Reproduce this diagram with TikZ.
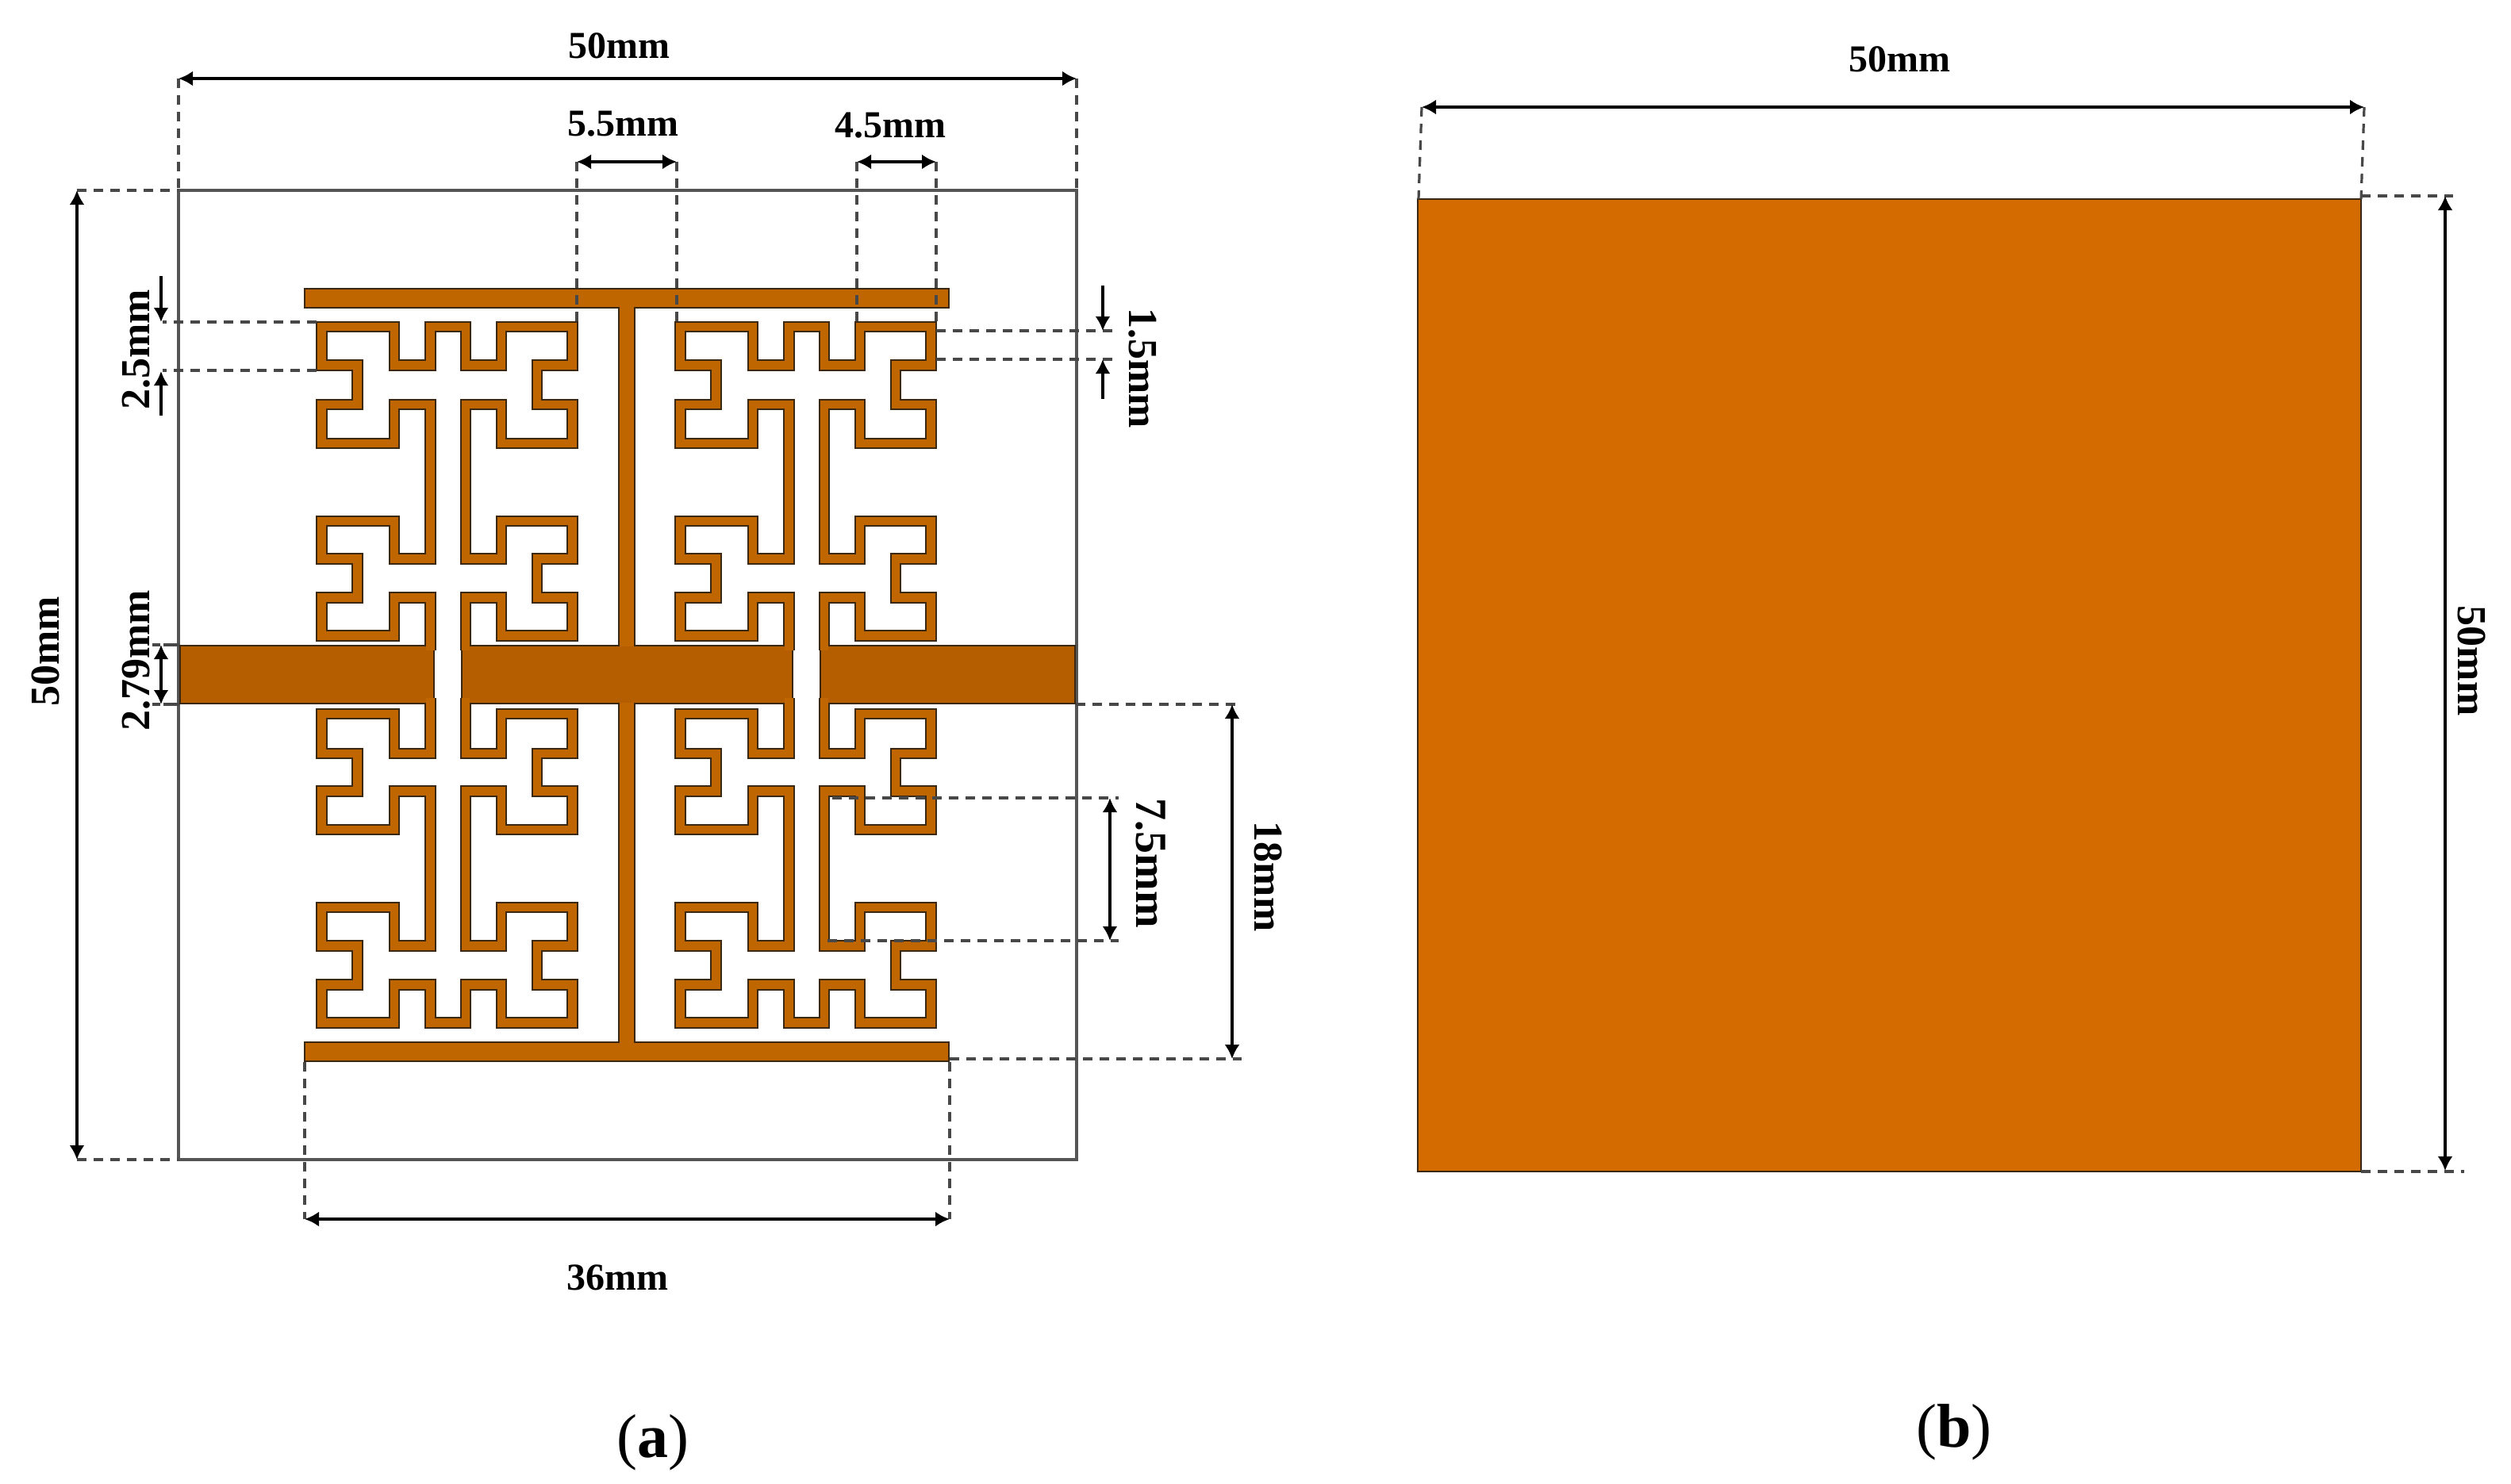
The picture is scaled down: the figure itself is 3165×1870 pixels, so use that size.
\documentclass[tikz,border=0pt]{standalone}
\usepackage{fontspec}
\setmainfont{Liberation Serif}
\usetikzlibrary{arrows.meta}
\definecolor{edgeC}{HTML}{3A2812}
\definecolor{stripC}{HTML}{C06600}
\definecolor{feedC}{HTML}{B45E00}
\definecolor{patchC}{HTML}{D46B00}
\definecolor{lineC}{HTML}{555555}
\definecolor{dashC}{HTML}{484848}
\def\Xa{405.5}\def\Xb{450.5}\def\Xc{497}\def\Xd{542.5}\def\Xe{587}\def\Xf{632}\def\Xg{677}\def\Xh{721.5}
\newcommand{\hilbertTop}{(\Xd,820) -- (\Xd,753.5) -- (\Xc,753.5) -- (\Xc,801.5) -- (\Xa,801.5) -- (\Xa,753.5) -- (\Xb,753.5) -- (\Xb,704.5) -- (\Xa,704.5) -- (\Xa,657) -- (\Xc,657) -- (\Xc,704.5) -- (\Xd,704.5) -- (\Xd,510) -- (\Xc,510) -- (\Xc,559) -- (\Xa,559) -- (\Xa,510) -- (\Xb,510) -- (\Xb,460.5) -- (\Xa,460.5) -- (\Xa,412) -- (\Xc,412) -- (\Xc,460.5) -- (\Xd,460.5) -- (\Xd,412) -- (\Xe,412) -- (\Xe,460.5) -- (\Xf,460.5) -- (\Xf,412) -- (\Xh,412) -- (\Xh,460.5) -- (\Xg,460.5) -- (\Xg,510) -- (\Xh,510) -- (\Xh,559) -- (\Xf,559) -- (\Xf,510) -- (\Xe,510) -- (\Xe,704.5) -- (\Xf,704.5) -- (\Xf,657) -- (\Xh,657) -- (\Xh,704.5) -- (\Xg,704.5) -- (\Xg,753.5) -- (\Xh,753.5) -- (\Xh,801.5) -- (\Xf,801.5) -- (\Xf,753.5) -- (\Xe,753.5) -- (\Xe,820)}
\newcommand{\hilbertBot}{(\Xd,880) -- (\Xd,950) -- (\Xc,950) -- (\Xc,900) -- (\Xa,900) -- (\Xa,950) -- (\Xb,950) -- (\Xb,997.5) -- (\Xa,997.5) -- (\Xa,1046) -- (\Xc,1046) -- (\Xc,997.5) -- (\Xd,997.5) -- (\Xd,1192.5) -- (\Xc,1192.5) -- (\Xc,1144) -- (\Xa,1144) -- (\Xa,1192.5) -- (\Xb,1192.5) -- (\Xb,1241.5) -- (\Xa,1241.5) -- (\Xa,1289.5) -- (\Xc,1289.5) -- (\Xc,1241.5) -- (\Xd,1241.5) -- (\Xd,1289.5) -- (\Xe,1289.5) -- (\Xe,1241.5) -- (\Xf,1241.5) -- (\Xf,1289.5) -- (\Xh,1289.5) -- (\Xh,1241.5) -- (\Xg,1241.5) -- (\Xg,1192.5) -- (\Xh,1192.5) -- (\Xh,1144) -- (\Xf,1144) -- (\Xf,1192.5) -- (\Xe,1192.5) -- (\Xe,997.5) -- (\Xf,997.5) -- (\Xf,1046) -- (\Xh,1046) -- (\Xh,997.5) -- (\Xg,997.5) -- (\Xg,950) -- (\Xh,950) -- (\Xh,900) -- (\Xf,900) -- (\Xf,950) -- (\Xe,950) -- (\Xe,880)}
\newcommand{\copperbar}[4]{% x1 y1 x2 y2
  \fill[edgeC] (#1,#2) rectangle (#3,#4);
}
\newcommand{\copperfill}[5]{%
  \fill[#5] (#1+2,#2+2) rectangle (#3-2,#4-2);
}
\tikzset{
  x=0.5pt, y=-0.5pt,
  stripouter/.style={draw=edgeC, line width=7.2pt, line join=miter, miter limit=10},
  stripinner/.style={draw=stripC, line width=5.4pt, line join=miter, miter limit=10},
  substrate/.style={draw=lineC, line width=1.7pt},
  dim/.style={draw=black, line width=1.7pt, {Latex[length=9pt,width=9.5pt]}-{Latex[length=9pt,width=9.5pt]}},
  dimhead/.style={draw=black, line width=1.7pt, -{Latex[length=9pt,width=9.5pt]}},
  ext/.style={draw=dashC, line width=1.6pt, dash pattern=on 6pt off 4.5pt},
  lab/.style={font=\fontsize{24}{24}\selectfont\bfseries, inner sep=0pt},
  vlab/.style={font=\fontsize{26}{26}\selectfont\bfseries, inner sep=0pt},
  sublab/.style={font=\fontsize{39}{39}\selectfont, inner sep=0pt}
}
\begin{document}
\begin{tikzpicture}
\useasboundingbox (0,0) rectangle (3165,1870);
\fill[white] (0,0) rectangle (3165,1870);
% substrate (a)
\draw[substrate] (225,240) rectangle (1357,1462);
% copper, dark edge pass
\copperbar{383}{363}{1197}{389}
\copperbar{383}{1313}{1197}{1339}
\copperbar{779}{376}{801}{1326}
\copperbar{226}{813}{548}{888}
\copperbar{581}{813}{1000}{888}
\copperbar{1033}{813}{1356}{888}
\foreach \dx in {0,452}{
  \begin{scope}[shift={(\dx,0)}]
  \draw[stripouter] \hilbertTop;
  \draw[stripouter] \hilbertBot;
  \end{scope}
}
% copper, colour pass
\copperfill{383}{363}{1197}{389}{stripC}
\copperfill{383}{1313}{1197}{1339}{stripC}
\copperfill{779}{370}{801}{1332}{stripC}
\copperfill{226}{813}{548}{888}{feedC}
\copperfill{581}{813}{1000}{888}{feedC}
\copperfill{1033}{813}{1356}{888}{feedC}
\fill[feedC] (779,815) rectangle (801,886);
\foreach \dx in {0,452}{
  \begin{scope}[shift={(\dx,0)}]
  \draw[stripinner] \hilbertTop;
  \draw[stripinner] \hilbertBot;
  \end{scope}
}
% named anchors of the dimensions
\coordinate (topL) at (225,99);   \coordinate (topR) at (1357,99);
\coordinate (subTL) at (225,240); \coordinate (subTR) at (1357,240);
\coordinate (subBL) at (225,1462);
\coordinate (leftT) at (97,240);  \coordinate (leftB) at (97,1462);
\coordinate (aL) at (727,204);    \coordinate (aR) at (853,204);
\coordinate (aLe) at (727,406);   \coordinate (aRe) at (853,406);
\coordinate (bL) at (1080,204);   \coordinate (bR) at (1180,204);
\coordinate (bLe) at (1080,406);  \coordinate (bRe) at (1180,406);
% dashed extension lines
\draw[ext] (topL) -- (subTL);
\draw[ext] (topR) -- (subTR);
\draw[ext] (leftT) -- (subTL);
\draw[ext] (leftB) -- (subBL);
\draw[ext] (aL) -- (aLe);
\draw[ext] (aR) -- (aRe);
\draw[ext] (bL) -- (bLe);
\draw[ext] (bR) -- (bRe);
\coordinate (p25a) at (399,406);  \coordinate (q25a) at (205,406);
\coordinate (p25b) at (399,467);  \coordinate (q25b) at (205,467);
\draw[ext] (p25a) -- (q25a);
\draw[ext] (p25b) -- (q25b);
\coordinate (p15a) at (1180,417); \coordinate (q15a) at (1402,417);
\coordinate (p15b) at (1180,453); \coordinate (q15b) at (1402,453);
\draw[ext] (p15a) -- (q15a);
\draw[ext] (p15b) -- (q15b);
\coordinate (p279a) at (226,813); \coordinate (q279a) at (192,813);
\coordinate (p279b) at (226,888); \coordinate (q279b) at (192,888);
\draw[ext, dash pattern=on 10pt off 2pt] (p279a) -- (q279a);
\draw[ext, dash pattern=on 10pt off 2pt] (p279b) -- (q279b);
\coordinate (p18a) at (1356,888);  \coordinate (q18a) at (1565,888);
\coordinate (p18b) at (1197,1335); \coordinate (q18b) at (1565,1335);
\draw[ext] (p18a) -- (q18a);
\draw[ext] (p18b) -- (q18b);
\coordinate (p75a) at (1049,1006); \coordinate (q75a) at (1410,1006);
\coordinate (p75b) at (1043,1186); \coordinate (q75b) at (1410,1186);
\draw[ext] (p75a) -- (q75a);
\draw[ext] (p75b) -- (q75b);
\coordinate (p36a) at (384,1339);  \coordinate (q36a) at (384,1537);
\coordinate (p36b) at (1197,1339); \coordinate (q36b) at (1197,1537);
\draw[ext] (p36a) -- (q36a);
\draw[ext] (p36b) -- (q36b);
% dimension arrows
\draw[dim] (topL) -- (topR);
\draw[dim] (leftT) -- (leftB);
\draw[dim] (aL) -- (aR);
\draw[dim] (bL) -- (bR);
\coordinate (t25a) at (203,348); \coordinate (h25a) at (203,406);
\coordinate (t25b) at (203,524); \coordinate (h25b) at (203,468);
\draw[dimhead] (t25a) -- (h25a);
\draw[dimhead] (t25b) -- (h25b);
\coordinate (a279t) at (203,813); \coordinate (a279b) at (203,888);
\draw[dim] (a279t) -- (a279b);
\coordinate (t15a) at (1390,360); \coordinate (h15a) at (1390,417);
\coordinate (t15b) at (1390,503); \coordinate (h15b) at (1390,453);
\draw[dimhead] (t15a) -- (h15a);
\draw[dimhead] (t15b) -- (h15b);
\coordinate (a18t) at (1553,888); \coordinate (a18b) at (1553,1335);
\draw[dim] (a18t) -- (a18b);
\coordinate (a75t) at (1399,1006); \coordinate (a75b) at (1399,1186);
\draw[dim] (a75t) -- (a75b);
\draw[dim] (q36a) -- (q36b);
% panel (b)
\fill[patchC] (1787,251) rectangle (2976,1477);
\draw[draw=edgeC, line width=1pt] (1787,251) rectangle (2976,1477);
\coordinate (ptL) at (1792,135);  \coordinate (ptR) at (2980,135);
\coordinate (pcTL) at (1788,251); \coordinate (pcTR) at (2976,251);
\coordinate (pcBR) at (2976,1477);
\coordinate (prT) at (3082,247);  \coordinate (prB) at (3082,1476);
\coordinate (peT) at (3092,247);  \coordinate (peB) at (3106,1477);
\draw[ext] (ptL) -- (pcTL);
\draw[ext] (ptR) -- (pcTR);
\draw[ext] (pcTR |- peT) -- (peT);
\draw[ext] (pcBR) -- (peB);
\draw[dim] (ptL) -- (ptR);
\draw[dim] (prT) -- (prB);
% labels
\node[lab] (l50top) at (780,58) {50mm};
\node[lab] (l55) at (785,156) {5.5mm};
\node[lab] (l45) at (1122,158) {4.5mm};
\node[vlab, rotate=90] (l50left) at (57,821) {50mm};
\node[vlab, rotate=90] (l25) at (172,441) {2.5mm};
\node[vlab, rotate=90] (l279) at (172,833) {2.79mm};
\node[vlab, rotate=-90] (l15) at (1440,464) {1.5mm};
\node[vlab, rotate=-90, font=\fontsize{28}{28}\selectfont\bfseries] (l75) at (1450,1088) {7.5mm};
\node[vlab, rotate=-90] (l18) at (1599,1105) {18mm};
\node[lab] (l36) at (778,1611) {36mm};
\node[lab] (l50b) at (2394,75) {50mm};
\node[vlab, rotate=-90] (l50r) at (3116,833) {50mm};
\node[sublab] (capa) at (823,1819) {(\textbf{a})};
\node[sublab] (capb) at (2463,1806) {(\textbf{b})};
\end{tikzpicture}
\end{document}
